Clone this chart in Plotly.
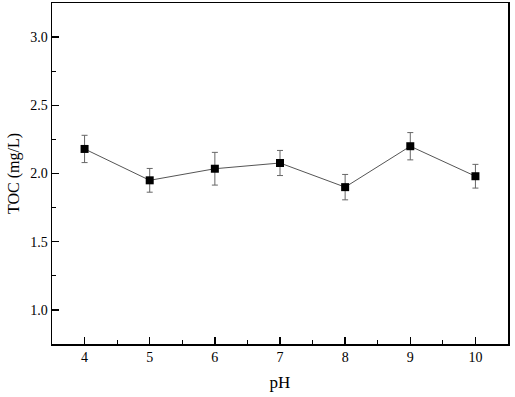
import plotly.graph_objects as go

ph = [4, 5, 6, 7, 8, 9, 10]
toc = [2.18, 1.95, 2.035, 2.077, 1.90, 2.20, 1.98]
err = [0.10, 0.087, 0.12, 0.092, 0.093, 0.10, 0.087]
y_ticks = [1.0, 1.5, 2.0, 2.5, 3.0]
y_ticktext = ["1.0", "1.5", "2.0", "2.5", "3.0"]

font_family = "Liberation Serif, Times New Roman, serif"

fig = go.Figure()
fig.add_trace(go.Scatter(
    x=ph, y=toc, mode="lines+markers",
    line=dict(color="#555555", width=1),
    marker=dict(symbol="square", size=8, color="black"),
    error_y=dict(type="data", array=err, visible=True, color="#666666", thickness=1, width=3),
    showlegend=False,
))

axis_common = dict(
    showline=True, linecolor="black", linewidth=1.5, mirror=True,
    ticks="inside", ticklen=7, tickwidth=1.5, tickcolor="black",
    showgrid=False, zeroline=False, automargin=False,
    tickfont=dict(family=font_family, size=14, color="black"),
)

fig.update_xaxes(
    range=[3.5, 10.5], tickmode="array", tickvals=ph, ticktext=[str(p) for p in ph],
    title=dict(text="pH", font=dict(family=font_family, size=17, color="black"), standoff=12),
    minor=dict(ticks="inside", ticklen=4, tickwidth=1.2, tickcolor="black", dtick=0.5, tick0=3.5, showgrid=False),
    **axis_common,
)
fig.update_yaxes(
    range=[0.75, 3.25], tickmode="array", tickvals=y_ticks, ticktext=y_ticktext,
    title=dict(text="TOC (mg/L)", font=dict(family=font_family, size=16, color="black"), standoff=6),
    minor=dict(ticks="inside", ticklen=4, tickwidth=1.2, tickcolor="black", dtick=0.25, tick0=0.75, showgrid=False),
    **axis_common,
)

fig.update_layout(
    width=515, height=397,
    margin=dict(l=52, r=7, t=3, b=53),
    plot_bgcolor="white", paper_bgcolor="white",
    font=dict(family=font_family, color="black"),
)

fig.write_html(
    "out.html",
    config={"displayModeBar": False, "staticPlot": True},
    post_script="document.body.style.margin='0';document.body.style.overflow='hidden';",
)
